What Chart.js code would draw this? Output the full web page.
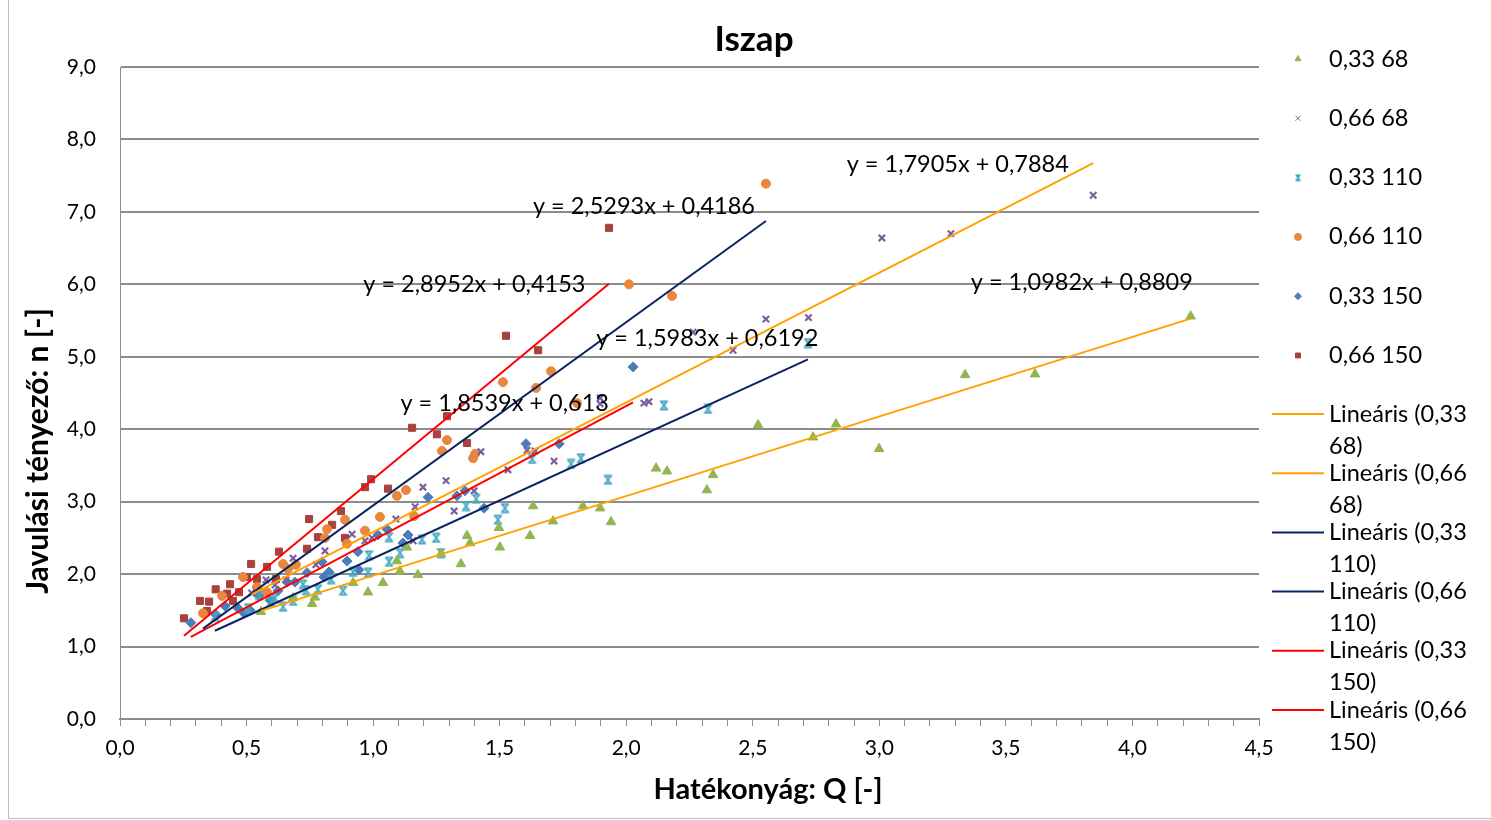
<!DOCTYPE html>
<html>
<head>
<meta charset="utf-8">
<script src="https://cdn.jsdelivr.net/npm/chart.js@4.4.1/dist/chart.umd.min.js"></script>
<style>
  body { margin: 0; background: #fff; }
  #wrap { position: relative; width: 1491px; height: 820px; }
</style>
</head>
<body>
<div id="wrap"><canvas id="scatterChart" width="1491" height="820"></canvas></div>
<script>
// series: Q (x) and n (y) values
var q_033_68 = [0.557, 0.684, 0.759, 0.77, 0.921, 0.98, 1.039, 1.094, 1.106, 1.134, 1.177, 1.268, 1.347, 1.371, 1.383, 1.497, 1.501, 1.62, 1.632, 1.711, 1.829, 1.897, 1.94, 2.118, 2.161, 2.319, 2.343, 2.521, 2.738, 2.829, 2.999, 3.339, 3.615, 4.23];
var n_033_68 = [1.48, 1.67, 1.59, 1.68, 1.88, 1.75, 1.88, 2.18, 2.04, 2.37, 1.99, 2.28, 2.14, 2.53, 2.43, 2.64, 2.37, 2.53, 2.94, 2.73, 2.94, 2.91, 2.72, 3.46, 3.42, 3.16, 3.37, 4.06, 3.89, 4.07, 3.73, 4.75, 4.76, 5.56];

var q_066_68 = [0.52, 0.577, 0.612, 0.656, 0.684, 0.774, 0.81, 0.917, 0.968, 0.996, 1.09, 1.158, 1.166, 1.197, 1.288, 1.32, 1.399, 1.426, 1.533, 1.608, 1.64, 1.715, 1.897, 1.897, 2.07, 2.09, 2.264, 2.422, 2.552, 2.72, 3.01, 3.283, 3.845];
var n_066_68 = [1.74, 1.92, 1.85, 1.92, 2.22, 2.13, 2.32, 2.55, 2.46, 2.50, 2.76, 2.46, 2.93, 3.20, 3.29, 2.87, 3.15, 3.69, 3.44, 3.71, 3.70, 3.56, 4.43, 4.35, 4.36, 4.38, 5.34, 5.09, 5.52, 5.54, 6.64, 6.70, 7.23];

var q_033_110 = [0.375, 0.506, 0.549, 0.597, 0.612, 0.644, 0.684, 0.723, 0.735, 0.782, 0.834, 0.881, 0.921, 0.98, 0.984, 1.063, 1.063, 1.106, 1.193, 1.249, 1.268, 1.367, 1.407, 1.493, 1.521, 1.628, 1.782, 1.821, 1.928, 2.149, 2.323, 2.718];
var n_033_110 = [1.42, 1.53, 1.71, 1.62, 1.67, 1.55, 1.63, 1.86, 1.78, 1.79, 1.93, 1.77, 2.03, 2.02, 2.26, 2.17, 2.51, 2.29, 2.48, 2.50, 2.29, 2.94, 3.04, 2.75, 2.91, 3.59, 3.52, 3.60, 3.30, 4.33, 4.28, 5.19];

var q_066_110 = [0.328, 0.403, 0.486, 0.541, 0.581, 0.644, 0.664, 0.695, 0.81, 0.818, 0.889, 0.897, 0.968, 1.027, 1.094, 1.13, 1.162, 1.272, 1.292, 1.395, 1.403, 1.513, 1.644, 1.703, 1.806, 2.011, 2.181, 2.552];
var n_066_110 = [1.46, 1.70, 1.96, 1.82, 1.75, 2.14, 2.07, 2.13, 2.50, 2.62, 2.75, 2.42, 2.60, 2.79, 3.08, 3.16, 2.80, 3.70, 3.85, 3.60, 3.66, 4.65, 4.57, 4.80, 4.36, 6.00, 5.84, 7.39];

var q_033_150 = [0.28, 0.379, 0.415, 0.466, 0.49, 0.514, 0.549, 0.593, 0.624, 0.66, 0.691, 0.739, 0.798, 0.806, 0.826, 0.897, 0.94, 0.944, 1.019, 1.055, 1.118, 1.138, 1.217, 1.331, 1.363, 1.438, 1.604, 1.735, 2.027];
var n_033_150 = [1.33, 1.44, 1.56, 1.53, 1.46, 1.50, 1.70, 1.64, 1.77, 1.89, 1.89, 2.02, 2.17, 1.96, 2.03, 2.18, 2.31, 2.06, 2.54, 2.62, 2.43, 2.54, 3.06, 3.08, 3.15, 2.91, 3.80, 3.80, 4.86];

var q_066_150 = [0.253, 0.316, 0.344, 0.352, 0.378, 0.423, 0.435, 0.446, 0.47, 0.502, 0.518, 0.541, 0.581, 0.616, 0.628, 0.739, 0.747, 0.782, 0.838, 0.873, 0.889, 0.968, 0.992, 1.059, 1.154, 1.252, 1.292, 1.371, 1.525, 1.652, 1.932];
var n_066_150 = [1.39, 1.63, 1.49, 1.62, 1.79, 1.73, 1.86, 1.63, 1.75, 1.96, 2.14, 1.93, 2.10, 1.93, 2.31, 2.35, 2.76, 2.51, 2.68, 2.87, 2.50, 3.20, 3.31, 3.18, 4.02, 3.93, 4.18, 3.81, 5.29, 5.09, 6.78];

var seriesNames = ['0,33 68', '0,66 68', '0,33 110', '0,66 110', '0,33 150', '0,66 150'];
// trend line coefficients (slope, intercept) as printed on the chart
var slopes = [1.0982, 1.7905, 1.5983, 2.5293, 1.8539, 2.8952];
var intercepts = [0.8809, 0.7884, 0.6192, 0.4186, 0.613, 0.4153];

var xTickLabels = ['0,0', '0,5', '1,0', '1,5', '2,0', '2,5', '3,0', '3,5', '4,0', '4,5'];
var yTickLabels = ['0,0', '1,0', '2,0', '3,0', '4,0', '5,0', '6,0', '7,0', '8,0', '9,0'];

var qs = [q_033_68, q_066_68, q_033_110, q_066_110, q_033_150, q_066_150];
var ns = [n_033_68, n_066_68, n_033_110, n_066_110, n_033_150, n_066_150];

// styling
var FONT = 'Lato, "Open Sans", sans-serif';
var markerColors = ['#92B552', '#7D5FA0', '#46A8C2', '#E8873D', '#4A7EBB', '#A8423E'];
var trendColors = ['#FFA200', '#FFA200', '#0A2463', '#0A2463', '#FF0000', '#FF0000'];
var eqAnchor = [[3.80, 6.03], [3.31, 7.66], [2.32, 5.26], [2.07, 7.07], [1.52, 4.36], [1.40, 6.00]];

function hourglass(color, size) {
    var c = document.createElement('canvas');
    c.width = size; c.height = size;
    var g = c.getContext('2d');
    var a = 1.5, b = size - 1.5;
    g.strokeStyle = color; g.lineWidth = 2;
    g.beginPath();
    g.moveTo(a, a); g.lineTo(b, a);
    g.moveTo(a, b); g.lineTo(b, b);
    g.moveTo(a + 1, a); g.lineTo(b - 1, b);
    g.moveTo(b - 1, a); g.lineTo(a + 1, b);
    g.stroke();
    return c;
}
var pointStyles = ['triangle', 'crossRot', hourglass(markerColors[2], 11), 'circle', 'rectRot', 'rect'];
var legendStyles = ['triangle', 'crossRot', hourglass(markerColors[2], 8), 'circle', 'rectRot', 'rect'];
var pointRadii = [5.5, 4.5, 5, 4.5, 5, 5];

function fmt(v) { return String(v).replace('.', ','); }

var datasets = [];
for (var i = 0; i < 6; i++) {
    datasets.push({
        label: seriesNames[i],
        data: qs[i].map(function (q, k) { return { x: q, y: ns[this][k] }; }, i),
        showLine: false,
        pointStyle: pointStyles[i],
        pointRadius: pointRadii[i],
        pointBorderWidth: i === 1 ? 2.2 : 1,
        pointBackgroundColor: markerColors[i],
        pointBorderColor: markerColors[i],
        order: 2
    });
}
for (var j = 0; j < 6; j++) {
    var lo = Math.min.apply(null, qs[j]), hi = Math.max.apply(null, qs[j]);
    datasets.push({
        label: 'Lineáris (' + seriesNames[j] + ')',
        data: [{ x: lo, y: slopes[j] * lo + intercepts[j] }, { x: hi, y: slopes[j] * hi + intercepts[j] }],
        showLine: true,
        borderColor: trendColors[j],
        borderWidth: 2,
        pointRadius: 0,
        order: 1
    });
}

var decorations = {
    id: 'decorations',
    afterDraw: function (chart) {
        var ctx = chart.ctx, x = chart.scales.x, y = chart.scales.y;
        ctx.save();
        // frame
        ctx.strokeStyle = '#BDBDBD'; ctx.lineWidth = 1;
        ctx.beginPath(); ctx.moveTo(8.5, 0); ctx.lineTo(8.5, 818.5); ctx.lineTo(1491, 818.5); ctx.stroke();

        ctx.fillStyle = '#000';
        ctx.textAlign = 'center'; ctx.textBaseline = 'middle';
        ctx.font = 'bold 35px ' + FONT;
        ctx.fillText('Iszap', 754, 40);
        ctx.font = 'bold 29px ' + FONT;
        ctx.fillText('Hatékonyág: Q [-]', 768, 790);
        ctx.save();
        ctx.translate(38, 451); ctx.rotate(-Math.PI / 2);
        ctx.font = 'bold 30px ' + FONT;
        ctx.fillText('Javulási tényező: n [-]', 0, 0);
        ctx.restore();

        // trend equations
        ctx.font = '23.5px ' + FONT;
        for (var i = 0; i < 6; i++) {
            var txt = 'y = ' + fmt(slopes[i]) + 'x + ' + fmt(intercepts[i]);
            ctx.fillText(txt, x.getPixelForValue(eqAnchor[i][0]), y.getPixelForValue(eqAnchor[i][1]));
        }

        // legend
        ctx.textAlign = 'left';
        ctx.font = '23.5px ' + FONT;
        for (var m = 0; m < 6; m++) {
            var ly = 59 + m * 59.3;
            ctx.fillStyle = markerColors[m]; ctx.strokeStyle = markerColors[m];
            Chart.helpers.drawPoint(ctx, { pointStyle: legendStyles[m], radius: 3.5, borderWidth: m === 1 ? 1.6 : 1, rotation: 0 }, 1298, ly);
            ctx.fillStyle = '#000';
            ctx.fillText(seriesNames[m], 1329, ly);
        }
        for (var t = 0; t < 6; t++) {
            var ty = 414 + t * 59.2;
            ctx.strokeStyle = trendColors[t]; ctx.lineWidth = 2;
            ctx.beginPath(); ctx.moveTo(1272, ty); ctx.lineTo(1324, ty); ctx.stroke();
            ctx.fillStyle = '#000';
            var parts = seriesNames[t].split(' ');
            ctx.fillText('Lineáris (' + parts[0], 1329, ty);
            ctx.fillText(parts[1] + ')', 1329, ty + 32);
        }
        ctx.restore();
    }
};

var ctx = document.getElementById('scatterChart');
var myChart = new Chart(ctx, {
    type: 'scatter',
    data: { datasets: datasets },
    options: {
        responsive: false,
        animation: false,
        devicePixelRatio: 1,
        layout: { padding: { top: 67, right: 232, left: 0, bottom: 0 } },
        plugins: {
            legend: { display: false },
            tooltip: { enabled: false }
        },
        scales: {
            x: {
                type: 'linear', min: 0, max: 4.5,
                afterFit: function (s) { s.height = 101; },
                afterBuildTicks: function (s) {
                    var arr = [];
                    for (var k = 0; k <= 45; k++) arr.push({ value: k / 10 });
                    s.ticks = arr;
                },
                ticks: {
                    autoSkip: false, maxRotation: 0, padding: 10,
                    color: '#000', font: { family: FONT, size: 21 },
                    callback: function (v) {
                        var r = Math.round(v * 10);
                        return r % 5 === 0 ? xTickLabels[r / 5] : '';
                    }
                },
                grid: { drawOnChartArea: false, drawTicks: true, tickLength: 7, color: '#8C8C8C', lineWidth: 1 },
                border: { display: true, color: '#8C8C8C', width: 2 }
            },
            y: {
                type: 'linear', min: 0, max: 9,
                afterFit: function (s) { s.width = 120; },
                ticks: {
                    stepSize: 1, padding: 24,
                    color: '#000', font: { family: FONT, size: 21 },
                    callback: function (v) { return yTickLabels[Math.round(v)]; }
                },
                grid: { color: '#8C8C8C', lineWidth: 2, drawTicks: false },
                border: { display: true, color: '#8C8C8C', width: 1 }
            }
        }
    },
    plugins: [decorations]
});
</script>
</body>
</html>
